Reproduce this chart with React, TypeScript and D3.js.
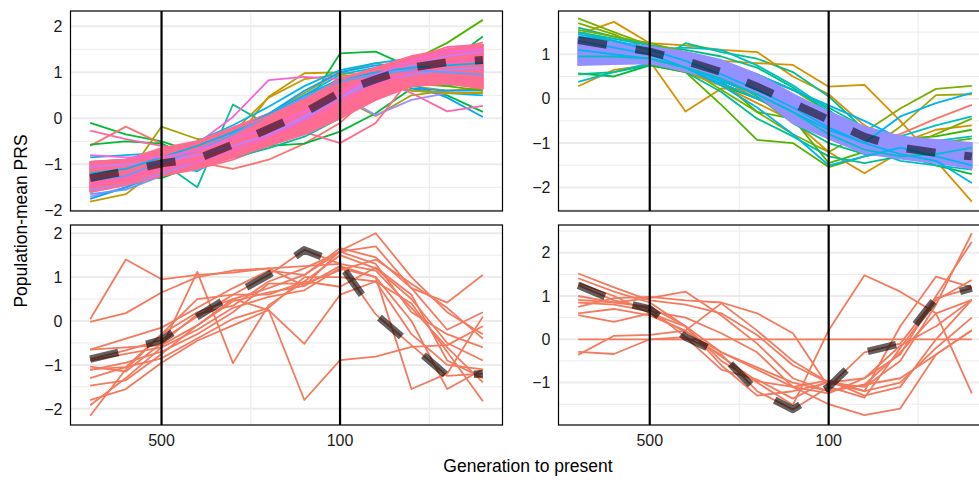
import React from "react";
import * as d3 from "d3";

// ---------- shared x axis (generation steps) ----------
const steps = [0, 1, 2, 3, 4, 5, 6, 7, 8, 9, 10, 11];
const xBreaks = [2, 7];
const xBreakLabels = ["500", "100"];
const xMinorBreaks = [4.5, 9.5];
const xDomain = [-0.55, 11.55];

// ---------- top-left panel ----------
const tlYDomain = [-2.015, 2.333];
const tlYTicks = [-2, -1, 0, 1, 2];
const tlYMinor = [-1.5, -0.5, 0.5, 1.5];
const tlColorsUnder = ["#00BA38","#F8766D","#A3A500","#00C094","#C49A00","#00BA38","#53B400","#00BA38","#00B6EB","#06A4FF","#A58AFF","#00BFC4","#00C094","#C49A00","#A3A500","#06A4FF","#53B400","#00B6EB","#C49A00","#00BFC4","#DF70F8","#FB61D7","#FF66A8","#FF66A8","#FF6C91","#06A4FF","#FF6C91","#00B6EB","#00C094","#619CFF"];
const tlUnder = [
  [-0.1,-0.35,-0.5,-0.75,-0.6,-0.3,0.05,0.4,0.9,1.0,1.1,1.2],
  [-0.6,-0.18,-0.55,-0.95,-1.1,-0.9,-0.55,-0.1,0.6,0.95,1.0,0.85],
  [-1.05,-1.3,-0.18,-0.45,-0.5,-0.2,0.1,0.45,0.05,0.5,0.6,0.65],
  [-1.0,-1.05,-0.95,-1.5,0.3,-0.15,0.2,0.7,0.85,1.0,1.1,1.3],
  [-1.81,-1.65,-1.05,-0.8,-0.55,0.47,0.98,1.0,0.9,0.7,0.6,0.62],
  [-0.57,-0.5,-0.55,-0.9,-0.8,-0.5,0.2,1.41,1.45,1.1,1.2,1.78],
  [-1.25,-1.1,-0.9,-0.7,-0.45,-0.1,0.4,0.8,1.05,1.25,1.64,2.14],
  [-1.3,-1.25,-1.3,-1.0,-0.8,-0.6,-0.55,-0.29,0.11,0.65,0.5,0.14],
  [-0.95,-0.9,-1.05,-1.15,-0.7,-0.3,0.2,0.9,0.75,0.6,0.55,0.5],
  [-1.6,-1.4,-1.1,-0.85,-0.55,-0.2,0.3,0.7,0.9,0.75,0.45,0.03],
  [-1.7,-1.5,-1.15,-0.9,-0.6,-0.3,0.15,0.5,0.07,0.4,0.55,0.55],
  [-1.2,-1.1,-1.0,-0.95,-0.7,-0.5,-0.2,0.2,0.6,0.75,0.8,0.75],
  [-1.4,-1.3,-1.0,-0.7,-0.4,-0.1,0.2,0.6,0.85,0.8,0.7,0.9],
  [-1.15,-1.0,-0.95,-0.55,-0.35,0.1,0.55,1.0,1.2,1.05,0.9,1.0],
  [-1.4,-1.25,-1.05,-0.85,-0.7,-0.55,-0.1,0.3,0.6,0.8,1.0,1.2],
  [-1.75,-1.5,-1.2,-0.9,-0.6,-0.2,0.2,0.65,0.95,0.65,0.6,0.6],
  [-1.3,-1.3,-1.0,-0.8,-0.6,-0.4,-0.35,0.35,0.95,0.75,0.7,0.6],
  [-1.55,-1.4,-1.05,-0.85,-0.45,0.0,0.5,0.95,1.1,1.15,1.2,1.1],
  [-1.3,-1.2,-1.1,-0.9,-0.3,0.45,0.85,0.95,0.85,0.6,0.55,0.55],
  [-1.45,-1.35,-1.15,-0.95,-0.65,-0.35,0.05,0.5,0.9,1.0,0.95,1.05],
  [-1.5,-1.45,-1.2,-1.0,-0.75,-0.45,-0.05,0.4,0.8,1.05,1.25,1.35],
  [-1.1,-0.95,-0.85,-0.55,0.03,0.83,0.9,0.85,1.0,1.15,1.4,1.5],
  [-0.27,-0.45,-0.6,-0.7,-0.55,-0.2,0.3,0.8,1.1,1.3,1.55,1.6],
  [-1.2,-1.05,-0.9,-0.75,-0.5,-0.15,0.35,0.9,0.85,0.55,0.15,0.27],
  [-1.35,-1.2,-1.0,-1.1,-0.9,-0.6,-0.3,-0.54,-0.1,0.9,1.1,1.3],
  [-1.0,-0.95,-0.9,-0.6,-0.25,0.1,0.6,1.0,1.15,1.2,1.3,1.45],
  [-1.05,-0.95,-0.9,-0.7,-0.5,-0.2,0.25,0.75,1.0,1.2,1.45,1.65],
  [-0.85,-0.8,-0.75,-0.5,-0.15,0.25,0.7,1.05,1.2,1.3,1.35,1.4],
  [-1.15,-1.05,-1.1,-0.95,-0.85,-0.65,-0.4,0.0,0.45,0.7,0.85,0.95],
  [-1.65,-1.55,-1.25,-1.0,-0.6,-0.15,0.35,0.75,1.0,0.9,0.8,0.75],
];
const tlBandLow = [-1.6,-1.45,-1.25,-1.1,-0.85,-0.6,-0.35,0.0,0.4,0.7,0.75,0.65];
const tlBandHigh = [-0.95,-0.9,-0.65,-0.5,-0.2,0.1,0.45,0.85,1.1,1.35,1.5,1.6];
const tlBandColor = "#FF6C91";
const tlColorsOver = ["#A58AFF","#C77CFF","#619CFF","#00B6EB","#FF6C91","#FF6C91","#F564E3","#FF61C3"];
const tlOver = [
  [-1.55,-1.45,-1.2,-0.95,-0.7,-0.4,0.0,0.45,0.8,0.95,1.05,1.1],
  [-1.05,-1.0,-0.95,-0.8,-0.6,-0.35,0.05,0.45,0.9,1.15,1.35,1.45],
  [-1.35,-1.25,-0.95,-0.7,-0.35,0.05,0.45,0.8,0.95,1.05,1.0,0.95],
  [-1.2,-1.1,-0.85,-0.6,-0.3,0.1,0.5,0.85,1.0,1.1,1.15,1.2],
  [-1.6,-1.45,-1.25,-1.05,-0.85,-0.55,-0.2,0.25,0.65,0.85,0.9,0.8],
  [-0.95,-0.9,-0.8,-0.55,-0.25,0.05,0.4,0.85,1.05,1.3,1.5,1.55],
  [-0.8,-0.85,-0.85,-0.7,-0.45,-0.2,0.15,0.55,0.95,1.25,1.45,1.5],
  [-1.45,-1.3,-1.1,-0.95,-0.7,-0.4,-0.05,0.35,0.75,1.0,1.2,1.3],
];
const tlMean = [-1.3,-1.15,-0.98,-0.88,-0.57,-0.23,0.12,0.56,0.85,1.1,1.22,1.27];

// ---------- top-right panel ----------
const trYDomain = [-2.53, 1.975];
const trYTicks = [-2, -1, 0, 1];
const trYMinor = [-2.5, -1.5, -0.5, 0.5, 1.5];
const trColorsUnder = ["#D89000","#D89000","#D89000","#7CAE00","#00BA38","#00BFC4","#00C08B","#53B400","#7CAE00","#A3A500","#D89000","#F8766D","#D89000","#53B400","#00BA38","#C49A00","#00BF7D","#00C08B","#00BF7D","#00BFC4","#39B600","#00C08B","#00B4F0","#00BFC4","#D89000","#7CAE00","#00BFC4","#619CFF","#00BFC4","#00B4F0","#00C08B","#619CFF","#00BFC4"];
const trUnder = [
  [0.28,0.65,0.76,0.6,0.35,0.0,-0.4,-0.8,-1.2,-1.1,-1.1,-1.0],
  [1.45,1.73,1.25,1.2,1.1,1.05,0.5,0.1,-0.6,-1.1,-1.2,-1.1],
  [1.2,1.05,0.85,-0.29,0.23,0.2,-0.1,-0.5,-1.0,-1.1,-1.2,-1.1],
  [1.81,1.5,1.2,0.95,0.7,0.5,0.2,-0.3,-0.7,-1.0,-1.1,-1.1],
  [0.57,0.5,0.75,0.6,0.3,0.0,-0.3,-0.7,-1.0,-1.1,-1.2,-1.3],
  [0.38,0.6,0.8,0.65,0.4,0.1,-0.2,-0.6,-0.9,-1.15,-1.3,-1.4],
  [0.55,0.6,0.75,1.25,1.05,0.9,0.6,0.05,-0.7,-1.0,-1.35,-1.2],
  [1.5,1.3,1.0,0.6,-0.14,-0.93,-1.0,-1.54,-1.3,-1.15,-1.1,-1.0],
  [1.7,1.45,1.1,0.7,0.2,-0.3,-0.8,-1.2,-0.75,-0.22,0.22,0.29],
  [1.4,1.25,1.05,0.8,0.5,0.1,-0.4,-0.9,-1.2,-0.63,0.08,0.1],
  [1.25,1.1,0.95,0.9,0.85,0.8,0.76,0.27,0.31,-0.5,-1.4,-2.32],
  [1.2,1.1,1.05,0.9,0.6,0.3,-0.1,-0.55,-1.0,-0.8,-0.45,-0.14],
  [1.0,0.9,0.85,0.6,0.3,-0.1,-0.5,-1.2,-1.68,-1.2,-1.1,-1.0],
  [1.3,1.2,1.05,0.75,0.4,-0.3,-0.45,-1.45,-1.2,-1.0,-1.0,-0.9],
  [1.15,1.2,1.1,0.9,0.55,0.2,-0.25,-0.75,-1.05,-1.25,-1.5,-1.7],
  [1.35,1.2,1.0,0.85,0.5,0.1,-0.35,-0.9,-1.1,-1.2,-1.3,-1.55],
  [1.6,1.4,1.2,1.1,0.95,0.7,0.25,-0.3,-0.8,-1.0,-1.15,-1.25],
  [0.95,1.0,1.1,1.05,0.85,0.55,0.2,-0.2,-0.65,-0.95,-1.0,-1.05],
  [1.1,1.05,1.0,0.85,0.5,0.05,-0.55,-1.0,-1.25,-1.3,-1.2,-1.15],
  [1.5,1.35,1.2,1.0,0.75,0.35,-0.1,-0.6,-1.1,-1.4,-1.5,-1.6],
  [0.8,0.85,0.9,0.8,0.6,0.4,0.0,-0.35,-0.75,-0.9,-0.85,-0.7],
  [1.2,1.1,0.95,0.6,0.15,-0.45,-0.85,-1.3,-1.45,-1.3,-1.25,-1.2],
  [1.4,1.3,1.15,1.0,0.8,0.55,0.2,-0.15,-0.5,-0.9,-1.05,-1.15],
  [1.0,1.05,1.1,1.15,1.1,0.75,0.3,-0.25,-0.9,-1.05,-0.95,-0.85],
  [1.25,1.1,1.0,0.8,0.45,0.0,-0.4,-0.85,-1.15,-1.0,-0.7,-0.6],
  [1.55,1.4,1.25,1.05,0.8,0.4,0.05,-0.4,-0.85,-1.15,-0.8,-0.45],
  [1.0,0.95,0.9,0.75,0.5,0.2,-0.2,-0.6,-0.95,-0.85,-0.6,-0.4],
  [1.2,1.1,0.95,0.75,0.5,0.15,-0.15,-0.5,-0.85,-1.1,-1.3,-1.6],
  [1.25,1.15,1.0,0.8,0.55,0.25,-0.1,-0.45,-0.8,-1.05,-1.2,-1.3],
  [0.9,0.9,0.85,0.65,0.35,0.0,-0.35,-0.75,-1.05,-1.2,-1.35,-1.45],
  [1.35,1.25,1.1,0.95,0.65,0.35,0.0,-0.35,-0.95,-1.15,-1.25,-1.35],
  [1.05,1.0,0.95,0.8,0.6,0.3,-0.1,-0.6,-0.75,-1.2,-1.1,-1.2],
  [1.15,1.1,1.05,0.9,0.7,0.4,0.05,-0.3,-0.7,-1.0,-1.15,-1.2],
];
const trBandLow = [0.76,0.78,0.8,0.62,0.42,0.1,-0.55,-0.9,-1.23,-1.35,-1.45,-1.56];
const trBandHigh = [1.36,1.25,1.17,1.05,0.87,0.55,0.1,-0.3,-0.63,-0.85,-0.93,-1.0];
const trBandColor = "#9590FF";
const trColorsOver = ["#00B4F0","#00B4F0","#00B4F0","#00BFC4"];
const trOver = [
  [1.3,1.15,1.0,0.7,0.3,-0.2,-0.8,-1.5,-1.3,-1.1,-1.3,-1.5],
  [1.1,1.0,0.9,0.7,0.4,0.1,-0.3,-0.7,-1.0,-0.4,-0.1,0.13],
  [1.45,1.3,1.1,0.85,0.55,0.2,-0.2,-0.65,-1.0,-1.25,-1.4,-1.9],
  [0.95,0.95,0.9,0.7,0.45,0.1,-0.3,-0.8,-1.15,-1.3,-1.25,-1.1],
];
const trMean = [1.32,1.19,1.06,0.85,0.6,0.27,-0.1,-0.48,-0.86,-1.1,-1.22,-1.3];

// ---------- bottom-left panel ----------
const blYDomain = [-2.369, 2.187];
const blYTicks = [-2, -1, 0, 1, 2];
const blYMinor = [-1.5, -0.5, 0.5, 1.5];
const blLines = [
  [0.04,1.4,0.95,1.05,1.1,1.2,1.25,1.3,1.15,0.3,-0.6,-1.4],
  [-0.02,0.18,0.65,1.0,1.15,1.2,0.8,1.6,2.0,1.0,0.2,-0.3],
  [-0.65,-0.4,-0.15,0.3,0.75,1.15,1.05,1.66,1.45,0.75,0.42,1.05],
  [-0.87,-0.67,-0.43,0.1,0.6,1.05,1.62,1.3,0.15,-0.55,-1.25,-1.2],
  [-1.04,-1.15,-0.5,0.15,0.35,0.9,1.2,1.58,1.3,0.2,-0.3,-0.6],
  [-1.12,-0.95,-0.7,-0.3,0.2,0.85,0.85,1.16,1.4,0.85,0.3,-0.4],
  [-1.47,-1.35,-0.75,-0.1,0.5,0.75,1.05,1.58,1.7,0.75,-0.2,0.2],
  [-1.8,-1.55,-0.95,-0.45,-0.1,0.25,-1.8,-0.89,-0.81,-0.59,-0.55,-0.12],
  [-1.92,-1.3,-0.6,1.12,-0.96,0.36,0.9,0.78,1.22,0.6,-0.9,-1.3],
  [-2.16,-1.1,-0.3,0.2,0.5,0.25,-0.52,0.6,0.9,-0.3,-1.0,-1.1],
  [-1.1,-1.05,-0.3,0.5,0.6,0.6,0.9,1.5,1.2,0.5,-0.5,-0.9],
  [-0.65,-0.6,-0.55,-0.1,0.45,0.65,0.8,1.25,1.0,-1.55,-1.2,0.1],
  [-1.3,-1.05,-0.85,-0.4,0.05,0.3,1.0,1.0,0.9,0.4,-0.7,-1.83],
  [-0.9,-0.75,-0.6,-0.2,0.3,0.55,0.7,1.2,1.0,0.0,-1.55,-1.1],
];
const blMean = [-0.87,-0.67,-0.43,0.1,0.6,1.05,1.62,1.3,0.15,-0.55,-1.25,-1.2];

// ---------- bottom-right panel ----------
const brYDomain = [-1.98, 2.64];
const brYTicks = [-1, 0, 1, 2];
const brYMinor = [-1.5, -0.5, 0.5, 1.5, 2.5];
const brLines = [
  [0,0,0,0,0,0,0,0,0,0,0,0],
  [1.25,0.9,0.7,0.05,-0.35,-1.2,-1.62,-1.1,-0.3,-0.1,0.95,1.18],
  [1.52,1.2,0.9,0.8,0.6,0.1,-0.6,-1.0,-1.1,-0.5,0.8,2.45],
  [1.41,1.1,0.85,0.3,-0.3,-0.7,-1.1,-1.25,-0.9,-0.35,1.0,2.25],
  [0.91,0.85,0.95,1.1,0.55,-0.1,-0.9,-1.2,-1.05,-0.3,0.6,0.91],
  [0.75,0.95,0.98,0.9,0.85,0.6,0.14,-1.1,-1.35,-0.2,0.9,1.37],
  [0.56,0.4,0.6,0.17,-0.3,-0.65,-1.0,-1.2,-1.05,-0.9,-0.35,0.21],
  [-0.29,-0.34,0.0,0.05,-0.7,-0.93,-1.37,-0.95,-1.3,-1.1,0.0,0.91],
  [-0.36,0.08,0.1,0.2,0.83,0.2,-0.5,-1.0,-1.2,-1.0,-0.2,0.5],
  [1.0,0.85,0.75,0.3,-0.5,-1.0,-1.52,0.21,1.48,1.1,0.6,-1.25],
  [0.6,0.7,0.55,0.2,-0.4,-0.97,-1.1,-1.5,-1.75,-1.6,-0.35,0.21],
  [0.85,0.8,0.65,0.5,0.14,-0.3,-1.1,-0.95,-1.2,0.3,1.45,1.2],
  [1.3,1.0,0.6,0.3,-0.6,-1.3,-1.2,-1.0,-0.9,-0.15,0.3,0.91],
];
const brMean = [1.25,0.9,0.7,0.05,-0.35,-1.2,-1.62,-1.1,-0.3,-0.1,0.95,1.18];

const bottomLineColor = "#F47A5E";

const FONT = "'Liberation Sans', Arial, Helvetica, sans-serif";

type PanelProps = {
  id: string;
  left: number; right: number; top: number; bottom: number;
  yDomain: number[]; yTicks: number[]; yMinor: number[];
  under: number[][]; underColors: string[];
  bandLow?: number[]; bandHigh?: number[]; bandColor?: string;
  over?: number[][]; overColors?: string[];
  mean: number[]; meanWidth: number; meanOpacity: number;
  showX: boolean;
};

function fmt(v: number) {
  return v < 0 ? "\u2212" + Math.abs(v) : String(v);
}

const LW = 1.8;

function Panel(p: PanelProps) {
  const x = d3.scaleLinear().domain(xDomain).range([p.left, p.right]);
  const y = d3.scaleLinear().domain(p.yDomain).range([p.bottom, p.top]);
  const line = d3.line<number>().x((_, i) => x(steps[i])).y((d) => y(d));
  const area = d3.area<number>()
    .x((_, i) => x(steps[i]))
    .y0((d) => y(d))
    .y1((_, i) => y((p.bandHigh as number[])[i]));
  const clip = `clip-${p.id}`;
  return (
    <g>
      <defs>
        <clipPath id={clip}>
          <rect x={p.left} y={p.top} width={p.right - p.left} height={p.bottom - p.top} />
        </clipPath>
      </defs>
      <rect x={p.left} y={p.top} width={p.right - p.left} height={p.bottom - p.top} fill="#fff" />
      <g clipPath={`url(#${clip})`}>
        {p.yMinor.map((v) => (
          <line key={"ym" + v} x1={p.left} x2={p.right} y1={y(v)} y2={y(v)} stroke="#EBEBEB" strokeWidth={1} />
        ))}
        {xMinorBreaks.map((v) => (
          <line key={"xm" + v} x1={x(v)} x2={x(v)} y1={p.top} y2={p.bottom} stroke="#EBEBEB" strokeWidth={1} />
        ))}
        {p.yTicks.map((v) => (
          <line key={"yM" + v} x1={p.left} x2={p.right} y1={y(v)} y2={y(v)} stroke="#EBEBEB" strokeWidth={2} />
        ))}
        {p.under.map((vals, i) => (
          <path key={"u" + i} d={line(vals) || ""} fill="none" stroke={p.underColors[i]} strokeWidth={LW} strokeLinejoin="round" />
        ))}
        {p.bandLow && (
          <path d={area(p.bandLow) || ""} fill={p.bandColor} stroke={p.bandColor} strokeWidth={2} strokeLinejoin="round" />
        )}
        {p.over && p.over.map((vals, i) => (
          <path key={"o" + i} d={line(vals) || ""} fill="none" stroke={(p.overColors as string[])[i]} strokeWidth={LW} strokeLinejoin="round" />
        ))}
        <path d={line(p.mean) || ""} fill="none" stroke="#000" strokeOpacity={p.meanOpacity} strokeWidth={p.meanWidth} strokeDasharray="29 29" strokeLinejoin="round" />
        {xBreaks.map((v) => (
          <line key={"vl" + v} x1={x(v)} x2={x(v)} y1={p.top} y2={p.bottom} stroke="#000" strokeWidth={2.2} />
        ))}
      </g>
      <rect x={p.left} y={p.top} width={p.right - p.left} height={p.bottom - p.top} fill="none" stroke="#000" strokeWidth={1.2} />
      {p.yTicks.map((v) => (
        <text key={"yt" + v} x={p.left - 8} y={y(v)} dy="0.36em" textAnchor="end" fontSize={16} fill="#1a1a1a" fontFamily={FONT}>
          {fmt(v)}
        </text>
      ))}
      {p.showX && xBreaks.map((v, i) => (
        <text key={"xt" + v} x={x(v)} y={p.bottom + 21} textAnchor="middle" fontSize={16} fill="#1a1a1a" fontFamily={FONT}>
          {xBreakLabels[i]}
        </text>
      ))}
    </g>
  );
}

export default function App() {
  const L = [70.5, 502.5];
  const R = [558.5, 991.5];
  const T = [11, 211];
  const B = [225, 425];
  return (
    <svg width={979} height={480} style={{ position: "absolute", left: 0, top: 0, background: "#fff" }}>
      <rect width={979} height={480} fill="#fff" />
      <Panel id="tl" left={L[0]} right={L[1]} top={T[0]} bottom={T[1]}
        yDomain={tlYDomain} yTicks={tlYTicks} yMinor={tlYMinor}
        under={tlUnder} underColors={tlColorsUnder}
        bandLow={tlBandLow} bandHigh={tlBandHigh} bandColor={tlBandColor}
        over={tlOver} overColors={tlColorsOver}
        mean={tlMean} meanWidth={8} meanOpacity={0.55} showX={false} />
      <Panel id="tr" left={R[0]} right={R[1]} top={T[0]} bottom={T[1]}
        yDomain={trYDomain} yTicks={trYTicks} yMinor={trYMinor}
        under={trUnder} underColors={trColorsUnder}
        bandLow={trBandLow} bandHigh={trBandHigh} bandColor={trBandColor}
        over={trOver} overColors={trColorsOver}
        mean={trMean} meanWidth={8} meanOpacity={0.55} showX={false} />
      <Panel id="bl" left={L[0]} right={L[1]} top={B[0]} bottom={B[1]}
        yDomain={blYDomain} yTicks={blYTicks} yMinor={blYMinor}
        under={blLines} underColors={blLines.map(() => bottomLineColor)}
        mean={blMean} meanWidth={7.5} meanOpacity={0.62} showX={true} />
      <Panel id="br" left={R[0]} right={R[1]} top={B[0]} bottom={B[1]}
        yDomain={brYDomain} yTicks={brYTicks} yMinor={brYMinor}
        under={brLines} underColors={brLines.map(() => bottomLineColor)}
        mean={brMean} meanWidth={7.5} meanOpacity={0.62} showX={true} />
      <text x={528} y={472} textAnchor="middle" fontSize={17.5} fill="#000" fontFamily={FONT}>
        Generation to present
      </text>
      <text transform="translate(27,221) rotate(-90)" textAnchor="middle" fontSize={17.5} fill="#000" fontFamily={FONT}>
        Population-mean PRS
      </text>
    </svg>
  );
}
